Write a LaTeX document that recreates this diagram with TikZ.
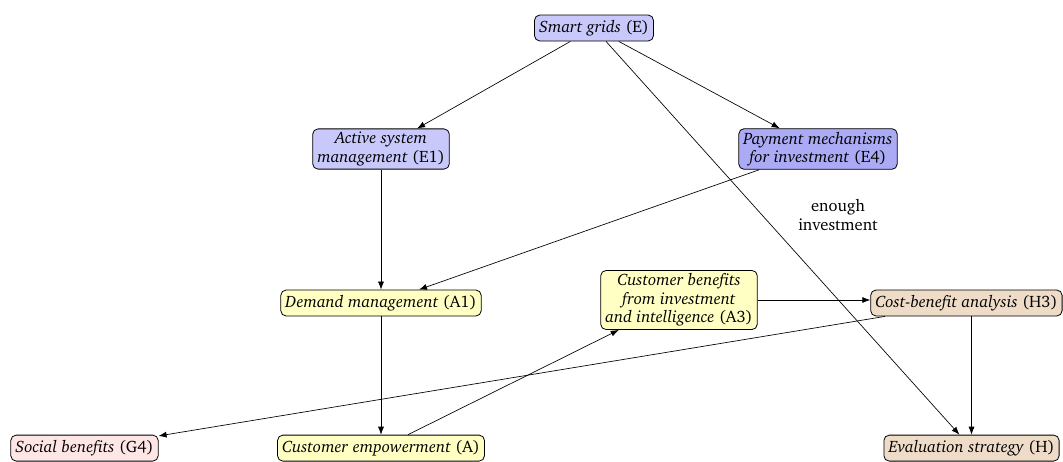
\documentclass[tikz,border=0pt]{standalone}
\usepackage[T1]{fontenc}
\usepackage{charter}
\usetikzlibrary{arrows.meta}
\definecolor{smartblue}{HTML}{C8C8FA}
\definecolor{payblue}{HTML}{AAAAF5}
\definecolor{custyellow}{HTML}{FFFFC4}
\definecolor{evaltan}{HTML}{EFDCC8}
\definecolor{socialpink}{HTML}{FFE6E6}
\newcommand{\diagfont}{\fontsize{12.4}{13.8}\selectfont}
\tikzset{
  box/.style={draw, rounded corners=4pt, align=center, inner xsep=3.5pt,
    inner ysep=2.5pt, minimum height=19.5pt, line width=0.6pt, font=\diagfont},
  link/.style={-{Latex[length=6pt,width=4.5pt]}, line width=0.5pt},
}
\begin{document}
\begin{tikzpicture}[x=0.75pt,y=-0.75pt]
\useasboundingbox (0,0) rectangle (1063,461);
\node[box, fill=smartblue] (E) at (594,28) {\textit{Smart grids} (E)};
\node[box, fill=smartblue] (E1) at (381,149) {\textit{Active system}\\\textit{management} (E1)};
\node[box, fill=payblue] (E4) at (818,149) {\textit{Payment mechanisms}\\\textit{for investment} (E4)};
\node[box, fill=custyellow] (A1) at (381,303) {\textit{Demand management} (A1)};
\node[box, fill=custyellow] (A3) at (679,300) {\textit{Customer benefits}\\\textit{from investment}\\\textit{and intelligence} (A3)};
\node[box, fill=evaltan, anchor=east] (H3) at (1062.5,303) {\textit{Cost-benefit analysis} (H3)};
\node[box, fill=socialpink, anchor=south] (G4) at (84.5,461.5) {\textit{Social benefits} (G4)};
\node[box, fill=custyellow, anchor=south] (A) at (381,461.5) {\textit{Customer empowerment} (A)};
\node[box, fill=evaltan, anchor=south] (H) at (971.5,461.5) {\textit{Evaluation strategy} (H)};
\node[align=center, font=\diagfont] (lbl) at (838,215) {enough\\investment};

\draw[link] (E) -- (E1);
\draw[link] (E) -- (E4);
\draw[link] (E) -- (H);
\draw[link] (E1) -- (A1);
\draw[link] (E4) -- (A1);
\draw[link] (A1) -- (A);
\draw[link] (A) -- (A3);
\draw[link] (A3.east) -- (A3.east -| H3.west);
\draw[link] (H3) -- (G4);
\draw[link] (H3.south -| H.north) -- (H.north);
\end{tikzpicture}
\end{document}
